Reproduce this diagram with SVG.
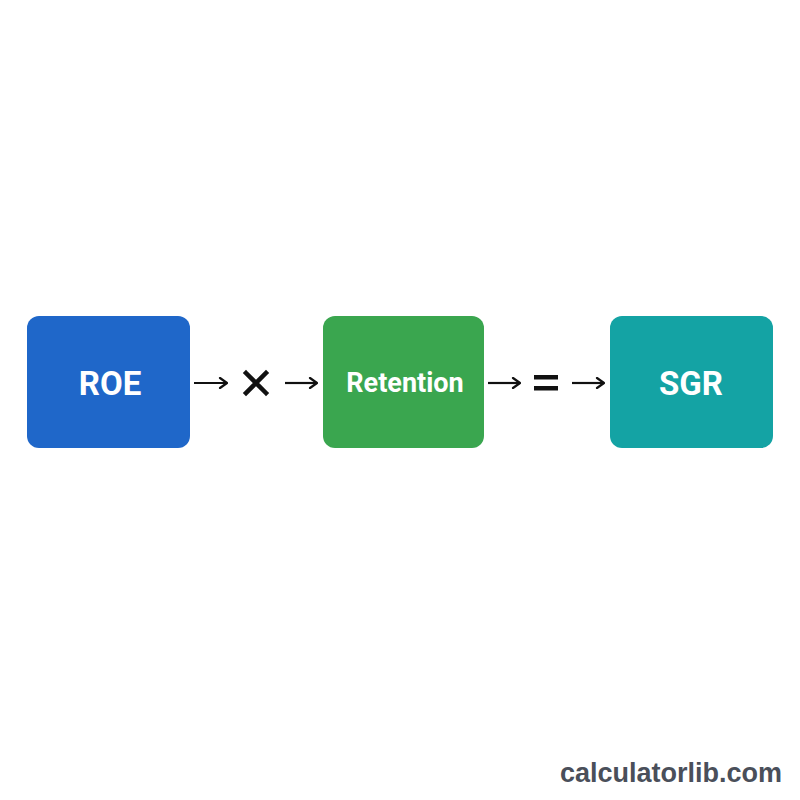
<svg xmlns="http://www.w3.org/2000/svg" width="800" height="800" viewBox="0 0 800 800">
<defs>
<marker id="ah" markerWidth="10" markerHeight="12" refX="9" refY="6" orient="auto" markerUnits="userSpaceOnUse">
<path d="M2,1 L9,6 L2,11" fill="none" stroke="#111" stroke-width="2.2" stroke-linecap="round" stroke-linejoin="round"/>
</marker>
<style>
.box{rx:12;ry:12}
.lbl{font-family:Roboto,"Liberation Sans",sans-serif;font-weight:bold;fill:#fff;text-anchor:middle}
.conn{stroke:#111;stroke-width:2.2;fill:none;marker-end:url(#ah)}
</style>
</defs>
<rect width="800" height="800" fill="#fff"/>
<g id="roe">
<rect class="box" x="27" y="316" width="163" height="132" fill="#1f67c9"/>
<text class="lbl" x="110" y="395" font-size="33">ROE</text>
</g>
<g id="retention">
<rect class="box" x="323" y="316" width="161" height="132" fill="#3aa64f"/>
<text class="lbl" x="405" y="392" font-size="27">Retention</text>
</g>
<g id="sgr">
<rect class="box" x="610" y="316" width="163" height="132" fill="#14a3a4"/>
<text class="lbl" x="691" y="395" font-size="33">SGR</text>
</g>
<g id="connectors">
<line class="conn" x1="194" y1="383" x2="227" y2="383"/>
<line class="conn" x1="285" y1="383" x2="317" y2="383"/>
<line class="conn" x1="488" y1="383" x2="520" y2="383"/>
<line class="conn" x1="572" y1="383" x2="604" y2="383"/>
</g>
<g id="operators">
<path d="M246,373 L266,393 M266,373 L246,393" stroke="#111" stroke-width="4.5" stroke-linecap="square"/>
<rect x="534" y="375" width="24" height="4.5" fill="#111"/>
<rect x="534" y="386" width="24" height="4.5" fill="#111"/>
</g>
<text x="782" y="782" font-family="'Liberation Sans',Arial,sans-serif" font-weight="bold" font-size="27" fill="#4a4f5a" text-anchor="end">calculatorlib.com</text>
</svg>
